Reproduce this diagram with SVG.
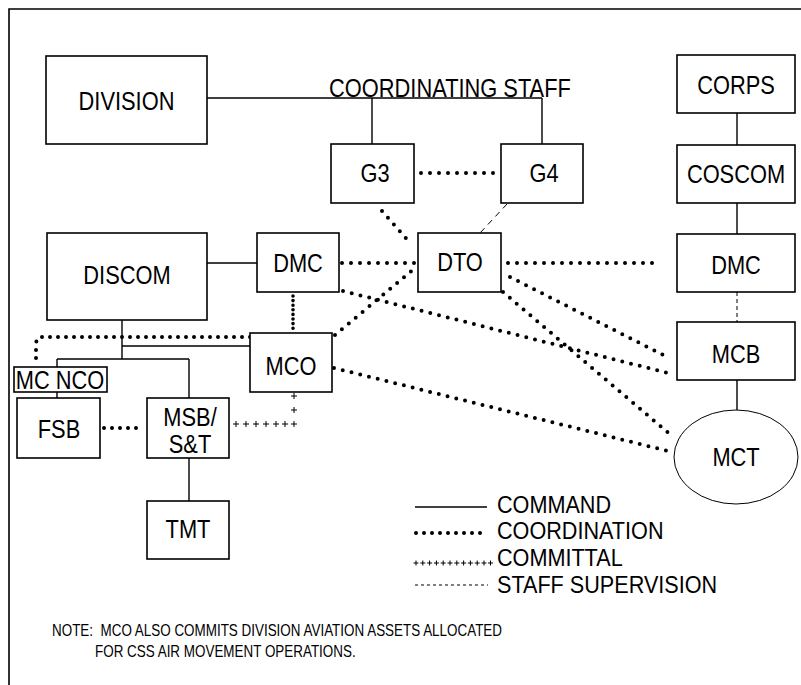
<svg xmlns="http://www.w3.org/2000/svg" width="801" height="685" viewBox="0 0 801 685">
<style>
text { font-family: "Liberation Sans", Arial, sans-serif; font-size: 26px; fill: #000; text-anchor: middle; transform-box: fill-box; transform-origin: center; transform: scaleX(0.84); }
text.l { text-anchor: start; transform-origin: left center; font-size: 23px; transform: scaleX(0.94); }
text.n { font-size: 16px; transform: scaleX(0.84); }
.box { fill: #fff; stroke: #000; stroke-width: 1.6; }
.frame { fill: none; stroke: #000; stroke-width: 1.6; }
.cmd { fill: none; stroke: #000; stroke-width: 1.4; }
.coord { fill: none; stroke: #000; stroke-width: 4; stroke-linecap: round; stroke-dasharray: 0 9; }
.dense { stroke-dasharray: 0 4.6; stroke-width: 3.6; }
.staff { fill: none; stroke: #000; stroke-width: 1; stroke-dasharray: 6 5; }
.staffs { stroke-dasharray: 4 3; }
.commit { fill: none; stroke: none; marker-start: url(#plus); marker-mid: url(#plus); marker-end: url(#plus); }
.commits { marker-start: url(#plusS); marker-mid: url(#plusS); marker-end: url(#plusS); }
</style>
<defs>
<marker id="plus" markerUnits="userSpaceOnUse" markerWidth="7" markerHeight="7" refX="3" refY="3" overflow="visible"><path d="M0,3H6M3,0V6" stroke="#000" stroke-width="1"/></marker>
<marker id="plusS" markerUnits="userSpaceOnUse" markerWidth="6" markerHeight="6" refX="2.5" refY="2.5" overflow="visible"><path d="M0,2.5H5M2.5,0V5" stroke="#000" stroke-width="1"/></marker>
</defs>
<rect width="801" height="685" fill="#fff"/>
<path class="frame" d="M9,685V9H801"/>

<g id="connectors">
<path class="cmd" d="M207,98H542M372,98V144M542,98V144"/>
<path class="cmd" d="M737,113V145M737,203V234M737,380V410"/>
<path class="cmd" d="M207,263H257M122,320V359M122,346H250M57,359H189M57,359V367M189,359V398M57,392V398M189,458V501"/>
<path class="staff" d="M507,204L480,233"/>
<path class="staff staffs" d="M737,292V322"/>
<path class="coord" d="M421,173H496"/>
<path class="coord" d="M382,211L411,244"/>
<path class="coord" d="M342,263H415"/>
<path class="coord" d="M508,263H661"/>
<path class="coord" d="M343,291L668,373"/>
<path class="coord" d="M510,277L669,358"/>
<path class="coord" d="M503,292L672,436"/>
<path class="coord" d="M334,368L668,451"/>
<path class="coord" d="M335,335L415,268"/>
<path class="coord dense" d="M293,296V331"/>
<path class="coord" d="M250,337H42Q36,337 36,345V364" style="stroke-dasharray:0 8"/>
<path class="coord" d="M104,428H143" style="stroke-dasharray:0 8"/>
<path class="commit" d="M236,424L246,424L256,424L266,424L276,424L285,424L294,424L294,410L294,396"/>
</g>

<g id="division"><rect class="box" x="46" y="56" width="161" height="88"/><text x="126.5" y="110">DIVISION</text></g>
<g id="coordinating-staff"><text x="450" y="97">COORDINATING STAFF</text></g>
<g id="g3"><rect class="box" x="331" y="144" width="83" height="59"/><text x="375" y="182">G3</text></g>
<g id="g4"><rect class="box" x="501" y="144" width="82" height="59"/><text x="544" y="182">G4</text></g>
<g id="dto"><rect class="box" x="418" y="233" width="83" height="59"/><text x="460" y="271">DTO</text></g>
<g id="discom"><rect class="box" x="47" y="233" width="160" height="87"/><text x="127" y="284">DISCOM</text></g>
<g id="dmc-div"><rect class="box" x="257" y="233" width="82" height="59"/><text x="298" y="272">DMC</text></g>
<g id="mco"><rect class="box" x="250" y="333" width="82" height="59"/><text x="291" y="375">MCO</text></g>
<g id="mc-nco"><rect class="box" x="14" y="367" width="93" height="25"/><text x="60" y="389">MC NCO</text></g>
<g id="fsb"><rect class="box" x="17" y="398" width="83" height="60"/><text x="59" y="438">FSB</text></g>
<g id="msb"><rect class="box" x="147" y="398" width="82" height="60"/><text x="190" y="426">MSB/</text><text x="190" y="453">S&amp;T</text></g>
<g id="tmt"><rect class="box" x="147" y="501" width="82" height="58"/><text x="188" y="538">TMT</text></g>
<g id="corps"><rect class="box" x="677" y="55" width="118" height="58"/><text x="736" y="94">CORPS</text></g>
<g id="coscom"><rect class="box" x="677" y="145" width="118" height="58"/><text x="736" y="183">COSCOM</text></g>
<g id="dmc-corps"><rect class="box" x="677" y="234" width="118" height="58"/><text x="736" y="274">DMC</text></g>
<g id="mcb"><rect class="box" x="677" y="322" width="118" height="58"/><text x="736" y="363">MCB</text></g>
<g id="mct"><ellipse cx="736" cy="457" rx="62" ry="47" fill="#fff" stroke="#000" stroke-width="1"/><text x="736" y="466">MCT</text></g>

<g id="legend">
<path class="cmd" d="M415,507H487"/>
<path class="coord" d="M416,533H488" style="stroke-dasharray:0 8"/>
<path class="commit commits" d="M416,563L422.8,563L429.6,563L436.4,563L443.2,563L450,563L456.8,563L463.6,563L470.4,563L477.2,563L484,563L490.5,563"/>
<path class="staff" d="M415,585H488" style="stroke-dasharray:3 3"/>
<text class="l" x="497" y="513">COMMAND</text>
<text class="l" x="497" y="539">COORDINATION</text>
<text class="l" x="497" y="566">COMMITTAL</text>
<text class="l" x="497" y="593">STAFF SUPERVISION</text>
</g>

<g id="note">
<text class="l n" x="52" y="636" xml:space="preserve">NOTE:  MCO ALSO COMMITS DIVISION AVIATION ASSETS ALLOCATED</text>
<text class="l n" x="95" y="657">FOR CSS AIR MOVEMENT OPERATIONS.</text>
</g>
</svg>
